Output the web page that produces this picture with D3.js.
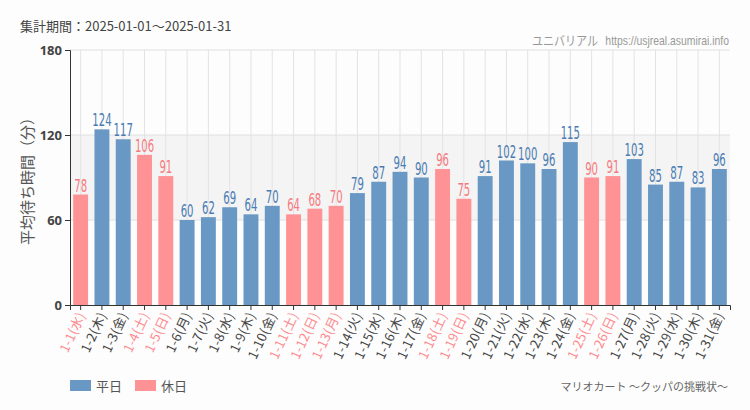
<!DOCTYPE html>
<html><head><meta charset="utf-8">
<script src="https://cdn.jsdelivr.net/npm/d3@7"></script>
<style>
body{margin:0;background:#fcfdfc;}
svg{display:block;font-family:"Noto Sans CJK JP","Noto Sans",sans-serif;}
</style></head>
<body><svg id="c" width="750" height="410"></svg>
<script>
const days = ["1-1","1-2","1-3","1-4","1-5","1-6","1-7","1-8","1-9","1-10","1-11","1-12","1-13","1-14","1-15","1-16","1-17","1-18","1-19","1-20","1-21","1-22","1-23","1-24","1-25","1-26","1-27","1-28","1-29","1-30","1-31"];
const weekdays = ["水","木","金","土","日","月","火","水","木","金","土","日","月","火","水","木","金","土","日","月","火","水","木","金","土","日","月","火","水","木","金"];
const holiday = [1,0,0,1,1,0,0,0,0,0,1,1,1,0,0,0,0,1,1,0,0,0,0,0,1,1,0,0,0,0,0];
const waits = [78,124,117,106,91,60,62,69,64,70,64,68,70,79,87,94,90,96,75,91,102,100,96,115,90,91,103,85,87,83,96];
const yTicks = [0,60,120,180];
const legendLabels = ["平日","休日"];

const C = {wd:"#6a98c4", hd:"#ff9294", wdText:"#4a7bb3", hdText:"#f7797e", xHd:"#ff8a8e", xWd:"#444"};
const svg = d3.select("#c");
const L=70, R=730, T=50, B=305;
const x = d3.scaleBand().domain(days).range([L,R]).paddingInner(0.3).paddingOuter(0.15);
const y = d3.scaleLinear().domain([0,180]).range([B,T]);

// split area
const bands=[[0,60,"#fcfdfc"],[60,120,"#f3f4f3"],[120,180,"#fcfdfc"]];
svg.selectAll("rect.sa").data(bands).join("rect").attr("x",L).attr("width",R-L)
  .attr("y",d=>y(d[1])).attr("height",d=>y(d[0])-y(d[1])).attr("fill",d=>d[2]);
// vertical grid
svg.selectAll("line.vg").data(days).join("line").attr("x1",d=>x(d)+x.bandwidth()/2).attr("x2",d=>x(d)+x.bandwidth()/2)
  .attr("y1",T).attr("y2",B).attr("stroke","#e3e3e3");
// horizontal grid
svg.selectAll("line.hg").data(yTicks.slice(1)).join("line").attr("x1",L).attr("x2",R)
  .attr("y1",d=>y(d)).attr("y2",d=>y(d)).attr("stroke","#e0e0e0");

// bars
svg.selectAll("rect.bar").data(waits).join("rect")
  .attr("x",(d,i)=>x(days[i])).attr("width",x.bandwidth())
  .attr("y",d=>y(d)).attr("height",d=>B-y(d))
  .attr("fill",(d,i)=>holiday[i]?C.hd:C.wd);
svg.selectAll("text.val").data(waits).join("text")
  .attr("transform",(d,i)=>`translate(${x(days[i])+x.bandwidth()/2},${y(d)-3}) scale(0.66,1)`)
  .attr("text-anchor","middle").attr("font-family","'Liberation Sans Narrow','DejaVu Sans Condensed',sans-serif")
  .attr("font-size",17).attr("fill",(d,i)=>holiday[i]?C.hdText:C.wdText).text(d=>d);

// y axis
const ya = svg.append("g").attr("transform",`translate(${L},0)`)
  .call(d3.axisLeft(y).tickValues(yTicks).tickSize(5).tickPadding(3));
ya.select(".domain").attr("stroke","#333");
ya.selectAll(".tick line").attr("stroke","#333");
ya.selectAll(".tick text").attr("font-size",13).attr("font-weight","bold").attr("fill","#444")
  .attr("font-family","'Noto Sans',sans-serif");

// x axis
const xa = svg.append("g").attr("transform",`translate(0,${B})`)
  .call(d3.axisBottom(x).tickSize(5).tickFormat(""));
xa.select(".domain").attr("stroke","#333");
xa.selectAll(".tick line").attr("stroke","#333");
svg.selectAll("text.xl").data(days).join("text")
  .attr("transform",d=>`translate(${x(d)+x.bandwidth()/2+5},${B+10}) rotate(-65)`)
  .attr("text-anchor","end").attr("font-size",13).attr("letter-spacing",0.3)
  .attr("fill",(d,i)=>holiday[i]?C.xHd:C.xWd)
  .text((d,i)=>`${d}(${weekdays[i]})`);

// y title
svg.append("text").attr("transform",`translate(33,${(T+B)/2}) rotate(-90)`)
  .attr("text-anchor","middle").attr("font-size",15).attr("fill","#555").text("平均待ち時間（分）");

// title
svg.append("text").attr("x",20).attr("y",31).attr("font-size",13).attr("fill","#444").text("集計期間：2025-01-01～2025-01-31");
svg.append("text").attr("transform","translate(729,45) scale(0.8,1)").attr("text-anchor","end").attr("font-size",13).attr("fill","#999")
  .attr("font-family","'Liberation Sans Narrow',sans-serif")
  .text("https://usjreal.asumirai.info");
svg.append("text").attr("transform","translate(598,45) scale(0.85,1)").attr("text-anchor","end").attr("font-size",13).attr("fill","#999")
  .text("ユニバリアル");

// legend
const lg = svg.selectAll("g.lg").data(legendLabels).join("g").attr("transform",(d,i)=>`translate(${70+i*65},380)`);
lg.append("rect").attr("width",21).attr("height",11).attr("fill",(d,i)=>i?C.hd:C.wd);
lg.append("text").attr("x",26).attr("y",10.5).attr("font-size",13).attr("fill","#555").text(d=>d);

svg.append("text").attr("x",728).attr("y",391).attr("text-anchor","end").attr("font-size",11).attr("fill","#666")
  .text("マリオカート ～クッパの挑戦状～");
</script></body></html>
